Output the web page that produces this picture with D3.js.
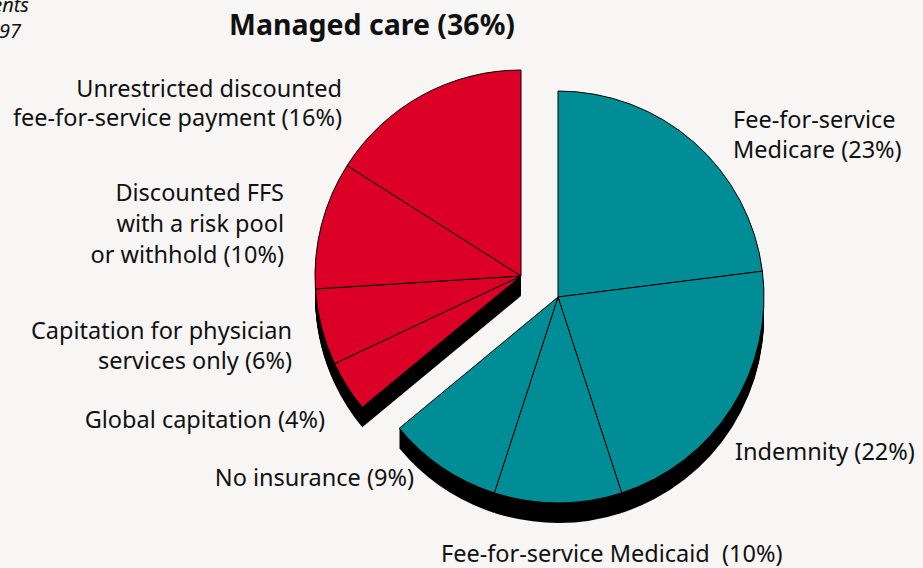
<!DOCTYPE html>
<html lang="en">
<head>
    <meta charset="UTF-8">
    <title>Managed care (36%)</title>
    <script src="https://cdn.jsdelivr.net/npm/d3@7"></script>
    <style>
        body { margin: 0; background: #f7f6f4; }
        svg { display: block; }
        text { font-family: 'Noto Sans', sans-serif; fill: #111; white-space: pre; }
    </style>
</head>
<body>
<script>
    // slices clockwise from 12 o'clock
    const categories = [
        "Fee-for-service Medicare", "Indemnity", "Fee-for-service Medicaid", "No insurance",
        "Global capitation", "Capitation for physician services only",
        "Discounted FFS with a risk pool or withhold", "Unrestricted discounted fee-for-service payment"
    ];
    const shares = [23, 22, 10, 9, 4, 6, 10, 16];
    const managed = [false, false, false, false, true, true, true, true];

    // label lines, one array per slice
    const labelLines = [
        ["Fee-for-service", "Medicare (23%)"],
        ["Indemnity (22%)"],
        ["Fee-for-service Medicaid  (10%)"],
        ["No insurance (9%)"],
        ["Global capitation (4%)"],
        ["Capitation for physician", "services only (6%)"],
        ["Discounted FFS", "with a risk pool", "or withhold (10%)"],
        ["Unrestricted discounted", "fee-for-service payment (16%)"]
    ];

    const width = 923, height = 568;
    const cx = 558, cy = 297, radius = 206;
    const explode = [-37, -21];
    const depth = 20;
    const red = "#dc0027", teal = "#008d95";

    // label anchor: [x, first baseline, anchor, line step]
    const labelPos = [
        [733, 128, "start", 30], [735, 460, "start", 0], [441, 562, "start", 0], [414, 486, "end", 0],
        [325, 428, "end", 0], [292, 339, "end", 30], [284, 201, "end", 31], [342, 97, "end", 29]
    ];

    const svg = d3.select("body").append("svg").attr("width", width).attr("height", height);

    const pie = d3.pie().sort(null).value(d => d)(shares);
    const arc = d3.arc().innerRadius(0).outerRadius(radius);

    const data = pie.map((p, i) => ({...p, name: categories[i], managed: managed[i]}));

    const groups = [
        {items: data.filter(d => !d.managed), color: teal, dx: 0, dy: 0},
        {items: data.filter(d => d.managed), color: red, dx: explode[0], dy: explode[1]}
    ];

    groups.forEach(g => {
        const G = svg.append("g").attr("transform", `translate(${cx + g.dx},${cy + g.dy})`);
        // extruded side
        G.append("g").selectAll("path")
            .data(d3.range(1, depth + 1).flatMap(k => g.items.map(d => ({d, k}))))
            .join("path")
            .attr("d", o => arc(o.d))
            .attr("transform", o => `translate(0,${o.k})`)
            .attr("fill", "#000");
        G.append("g").selectAll("path")
            .data(g.items)
            .join("path")
            .attr("d", arc)
            .attr("fill", g.color)
            .attr("stroke", "#000")
            .attr("stroke-width", 1)
            .attr("stroke-linejoin", "round");
    });

    svg.append("text")
        .attr("x", 372).attr("y", 35)
        .attr("text-anchor", "middle")
        .style("font-size", "28.5px").style("font-weight", "bold")
        .text("Managed care (36%)");

    // cut-off note at the top left (it is cut off in the original too)
    const note = svg.append("text").style("font-size", "20px").style("font-style", "italic")
        .attr("text-anchor", "end");
    note.append("tspan").attr("x", 29).attr("y", 12).text("Percent of practice revenue from all patients");
    note.append("tspan").attr("x", 21).attr("y", 38).text("1996–97");

    data.forEach((d, i) => {
        const [x, y, anchor, step] = labelPos[i];
        const t = svg.append("text")
            .attr("text-anchor", anchor)
            .style("font-size", "23.5px");
        t.selectAll("tspan")
            .data(labelLines[i])
            .join("tspan")
            .attr("x", x)
            .attr("y", (l, j) => y + j * step)
            .text(l => l);
    });
</script>
</body>
</html>
